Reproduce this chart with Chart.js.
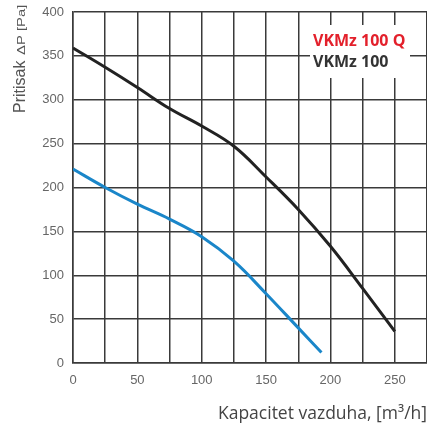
<!DOCTYPE html>
<html>
<head>
<meta charset="utf-8">
<script src="https://cdn.jsdelivr.net/npm/chart.js@4"></script>
<style>
  html, body { margin: 0; padding: 0; background: #fff; overflow: hidden; }
  #wrap { width: 427px; height: 426px; }
</style>
</head>
<body>
<div id="wrap"><canvas id="fanChart"></canvas></div>
<script>
const seriesLabels = ['VKMz 100 Q', 'VKMz 100'];
const flowQ = [0, 25, 50, 75, 100, 125, 150, 175, 193];
const pressureQ = [221, 200, 181, 164, 144, 116, 79, 40, 12];
const flowStd = [0, 25, 50, 75, 100, 125, 150, 175, 200, 225, 250];
const pressureStd = [359, 337, 314, 290, 270, 247, 212, 175, 133, 85, 36];
const xTicks = [0, 25, 50, 75, 100, 125, 150, 175, 200, 225, 250, 275];
const xTickLabels = ['0', '', '50', '', '100', '', '150', '', '200', '', '250', ''];

const toPoints = (xs, ys) => xs.map((x, i) => ({ x: x, y: ys[i] }));

// y axis title with the small "ΔP [Pa]" part
const yTitlePlugin = {
    id: 'yTitle',
    afterDraw(chart) {
        const ctx = chart.ctx;
        ctx.save();
        ctx.translate(25, 113);
        ctx.rotate(-Math.PI / 2);
        ctx.fillStyle = '#555';
        ctx.textBaseline = 'alphabetic';
        ctx.font = '16px "Liberation Sans", Arial, sans-serif';
        ctx.fillText('Pritisak', 0, 0);
        ctx.translate(58, 0);
        ctx.scale(1.35, 1);
        ctx.font = '11px "Liberation Sans", Arial, sans-serif';
        ctx.fillText('ΔP [Pa]', 0, 0);
        ctx.restore();
    }
};

// legend box in the upper right
const legendPlugin = {
    id: 'boxLegend',
    afterDatasetsDraw(chart) {
        const ctx = chart.ctx;
        ctx.save();
        ctx.fillStyle = '#fff';
        ctx.fillRect(310, 25, 100, 53);
        ctx.font = 'bold 16px "Open Sans", sans-serif';
        ctx.textBaseline = 'middle';
        ctx.fillStyle = '#e3202b';
        ctx.fillText(seriesLabels[0], 313, 41);
        ctx.fillStyle = '#333';
        ctx.fillText(seriesLabels[1], 313, 62);
        ctx.restore();
    }
};

new Chart(document.getElementById('fanChart'), {
    type: 'line',
    data: {
        datasets: [
            {
                label: seriesLabels[0],
                data: toPoints(flowQ, pressureQ),
                borderColor: '#1a86c9',
                borderWidth: 3,
                pointRadius: 0,
                tension: 0.4
            },
            {
                label: seriesLabels[1],
                data: toPoints(flowStd, pressureStd),
                borderColor: '#222',
                borderWidth: 3,
                pointRadius: 0,
                tension: 0.4
            }
        ]
    },
    options: {
        responsive: true,
        maintainAspectRatio: false,
        animation: false,
        layout: { padding: { top: 12, right: 0, left: 0, bottom: 0 } },
        plugins: {
            legend: { display: false },
            tooltip: { enabled: false }
        },
        scales: {
            x: {
                type: 'linear',
                min: 0,
                max: 275,
                afterBuildTicks: (scale) => { scale.ticks = xTicks.map(v => ({ value: v })); },
                afterFit: (scale) => {
                    scale.height = 63;
                    scale.paddingLeft = 0;
                    scale.paddingRight = 0;
                },
                grid: { color: '#3a3a3a', lineWidth: 1.5, drawTicks: false },
                border: { color: '#3a3a3a', width: 1.5 },
                ticks: {
                    padding: 10,
                    color: '#666',
                    font: { family: '"Liberation Sans", Arial, sans-serif', size: 13 },
                    maxRotation: 0,
                    autoSkip: false,
                    callback: (v, i) => xTickLabels[i]
                },
                title: {
                    display: true,
                    text: 'Kapacitet vazduha, [m³/h]',
                    align: 'end',
                    color: '#444',
                    font: { family: '"Open Sans", sans-serif', size: 17.5 },
                    padding: { top: 0, bottom: 1 }
                }
            },
            y: {
                min: 0,
                max: 400,
                afterFit: (scale) => {
                    scale.width = 73;
                    scale.paddingTop = 0;
                    scale.paddingBottom = 0;
                },
                grid: { color: '#3a3a3a', lineWidth: 1.5, drawTicks: false },
                border: { color: '#3a3a3a', width: 1.5 },
                ticks: {
                    stepSize: 50,
                    padding: 9,
                    color: '#666',
                    font: { family: '"Liberation Sans", Arial, sans-serif', size: 13 }
                }
            }
        }
    },
    plugins: [yTitlePlugin, legendPlugin]
});
</script>
</body>
</html>
